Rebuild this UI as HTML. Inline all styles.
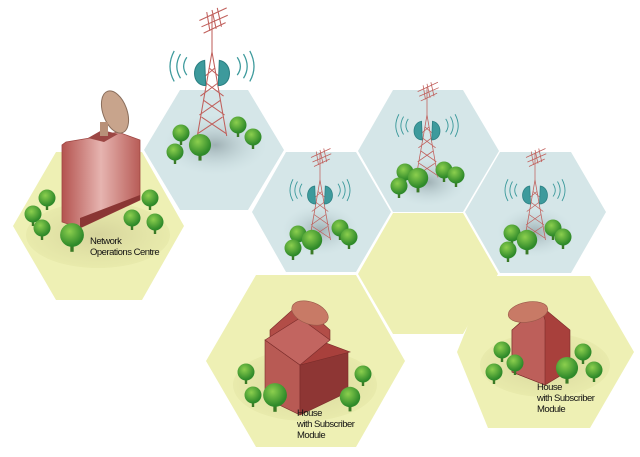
<!DOCTYPE html>
<html><head><meta charset="utf-8"><style>
html,body{margin:0;padding:0;background:#fff;}
svg{display:block}
text{font-family:"Liberation Sans",sans-serif;font-size:9.5px;fill:#111;letter-spacing:-0.5px}
</style></head><body>
<svg width="640" height="457" viewBox="0 0 640 457" xmlns="http://www.w3.org/2000/svg">
<defs>
<radialGradient id="sh" cx="50%" cy="50%" r="50%"><stop offset="0" stop-color="#9fb0b4"/><stop offset="1" stop-color="#c5dadd" stop-opacity="0"/></radialGradient>
<radialGradient id="shy" cx="50%" cy="50%" r="50%"><stop offset="0" stop-color="#d6d49c"/><stop offset="1" stop-color="#e4e6a6" stop-opacity="0.6"/></radialGradient>
<linearGradient id="bld" x1="0" x2="1"><stop offset="0" stop-color="#b4534f"/><stop offset="0.5" stop-color="#e6b4b0"/><stop offset="1" stop-color="#b85c57"/></linearGradient>
<radialGradient id="tr" cx="40%" cy="35%" r="60%"><stop offset="0" stop-color="#8ccf4e"/><stop offset="1" stop-color="#2f8a2a"/></radialGradient>
<g id="tree"><rect x="-1.2" y="5" width="2.4" height="7" fill="#3a7a26"/><circle r="8.5" fill="url(#tr)"/></g>
<g id="tower" stroke="#c0605c" stroke-width="1" fill="none">
<path d="M0 0 L-14 80 M0 0 L14 80 M-3 15 L9 25 M3 15 L-9 25 M-5 30 L11 42 M5 30 L-11 42 M-8 46 L12 60 M8 46 L-12 60 M-10 62 L14 78 M10 62 L-14 78"/>
<path d="M0 0 V-35 M-12 -30 L14 -42 M-10 -24 L15 -35 M-8 -18 L13 -28 M-5 -38 L-2 -20 M0 -40 L4 -22 M5 -42 L9 -24"/>
<path d="M-7 8 C-20 10 -20 32 -6 32 Z" fill="#3d9a9c" stroke="#2a7f82"/>
<path d="M7 8 C20 10 20 32 6 32 Z" fill="#3d9a9c" stroke="#2a7f82"/>
<g stroke="#3d9a9c" stroke-width="1.2"><path d="M-24 5 Q-30 14 -24 22 M-30 2 Q-37 14 -30 25 M-36 -1 Q-44 14 -36 28"/><path d="M24 5 Q30 14 24 22 M30 2 Q37 14 30 25 M36 -1 Q44 14 36 28"/></g>
</g>
</defs>
<polygon points="56,152 142,152 184,226 142,300 56,300 13,226" fill="#eef0b4"/>
<polygon points="180,90 248,90 284,150 248,210 180,210 144,150" fill="#d5e6e8"/>
<polygon points="286,152 356,152 391,212 356,272 286,272 252,212" fill="#d5e6e8"/>
<polygon points="393,90 463,90 499,151 463,212 393,212 358,151" fill="#d5e6e8"/>
<polygon points="500,152 571,152 606,212 571,273 500,273 465,212" fill="#d5e6e8"/>
<polygon points="393,213 463,213 498,274 463,334 393,334 358,274" fill="#eef0b4"/>
<polygon points="256,275 356,275 405,361 356,447 256,447 206,361" fill="#eef0b4"/>
<polygon points="488,276 590,276 634,352 590,428 488,428 457,352" fill="#eef0b4"/>
<ellipse cx="98" cy="235" rx="72" ry="33" fill="url(#shy)"/>
<ellipse cx="215" cy="145" rx="52" ry="30" fill="url(#sh)"/>
<ellipse cx="320" cy="230" rx="38" ry="25" fill="url(#sh)"/>
<ellipse cx="428" cy="182" rx="38" ry="24" fill="url(#sh)"/>
<ellipse cx="535" cy="232" rx="38" ry="25" fill="url(#sh)"/>
<ellipse cx="305" cy="385" rx="72" ry="36" fill="url(#shy)"/>
<ellipse cx="545" cy="365" rx="65" ry="32" fill="url(#shy)"/>
<use href="#tower" transform="translate(212,52) scale(1.05)"/>
<use href="#tower" transform="translate(320,180) scale(0.75)"/>
<use href="#tower" transform="translate(427,115) scale(0.78)"/>
<use href="#tower" transform="translate(535,180) scale(0.75)"/>
<path d="M62 145 L62 222 L80 228 L140 200 L140 140 L118 132 L90 138 L66 142 Z" fill="url(#bld)" stroke="#9e4643" stroke-width="0.8"/>
<path d="M80 228 L80 218 L140 195 L140 200 Z" fill="#8a3634"/>
<path d="M88 138 L102 130 L118 134 L104 142 Z" fill="#9c4744"/>
<ellipse cx="115" cy="112" rx="12" ry="22" transform="rotate(-20 115 112)" fill="#c8a48c" stroke="#8a6e5c"/>
<rect x="100" y="122" width="8" height="14" fill="#b89078"/>
<g stroke="#7a2c2a" stroke-width="0.6">
<path d="M270 330 L300 303 L330 330 L330 340 L270 345 Z" fill="#b24d47"/>
<path d="M265 340 L265 398 L300 415 L300 365 Z" fill="#b85a54"/>
<path d="M300 365 L300 415 L348 392 L348 352 Z" fill="#8e3634"/>
<path d="M300 365 L318 340 L350 352 Z" fill="#a8403c"/>
<path d="M265 340 L300 365 L330 340 L300 318 Z" fill="#c26560"/>
<ellipse cx="310" cy="313" rx="19" ry="11" transform="rotate(20 310 313)" fill="#c87a66" stroke="#9a5a4a"/>
<path d="M512 330 L540 305 L570 330 L570 370 L545 385 L512 372 Z" fill="#a8403c"/>
<path d="M512 330 L540 305 L545 320 L545 385 L512 372 Z" fill="#bd5f5a"/>
<ellipse cx="528" cy="312" rx="20" ry="10" transform="rotate(-10 528 312)" fill="#c87a66" stroke="#9a5a4a"/>
</g>
<g>
<use href="#tree" x="47" y="198"/><use href="#tree" x="33" y="214"/><use href="#tree" x="42" y="228"/>
<use href="#tree" x="150" y="198"/><use href="#tree" x="155" y="222"/><use href="#tree" x="132" y="218"/>
<use href="#tree" transform="translate(72,235) scale(1.4)"/>
<use href="#tree" x="181" y="133"/><use href="#tree" x="175" y="152"/><use href="#tree" x="238" y="125"/><use href="#tree" x="253" y="137"/>
<use href="#tree" transform="translate(200,145) scale(1.3)"/>
<use href="#tree" x="298" y="234"/><use href="#tree" x="293" y="248"/><use href="#tree" x="340" y="228"/><use href="#tree" x="349" y="237"/><use href="#tree" transform="translate(312,240) scale(1.2)"/>
<use href="#tree" x="405" y="172"/><use href="#tree" x="399" y="186"/><use href="#tree" x="444" y="170"/><use href="#tree" x="456" y="175"/><use href="#tree" transform="translate(418,178) scale(1.2)"/>
<use href="#tree" x="512" y="233"/><use href="#tree" x="508" y="250"/><use href="#tree" x="553" y="228"/><use href="#tree" x="563" y="237"/><use href="#tree" transform="translate(527,240) scale(1.2)"/>
<use href="#tree" x="246" y="372"/><use href="#tree" x="253" y="395"/><use href="#tree" x="363" y="374"/><use href="#tree" transform="translate(350,397) scale(1.2)"/><use href="#tree" transform="translate(275,395) scale(1.4)"/>
<use href="#tree" x="502" y="350"/><use href="#tree" x="494" y="372"/><use href="#tree" x="515" y="363"/><use href="#tree" x="583" y="352"/><use href="#tree" x="594" y="370"/><use href="#tree" transform="translate(567,368) scale(1.3)"/>
</g>
<text x="90" y="244">Network</text>
<text x="90" y="255">Operations Centre</text>
<text x="297" y="416">House</text>
<text x="297" y="427">with Subscriber</text>
<text x="297" y="438">Module</text>
<text x="537" y="390">House</text>
<text x="537" y="401">with Subscriber</text>
<text x="537" y="412">Module</text>
</svg>
</body></html>
